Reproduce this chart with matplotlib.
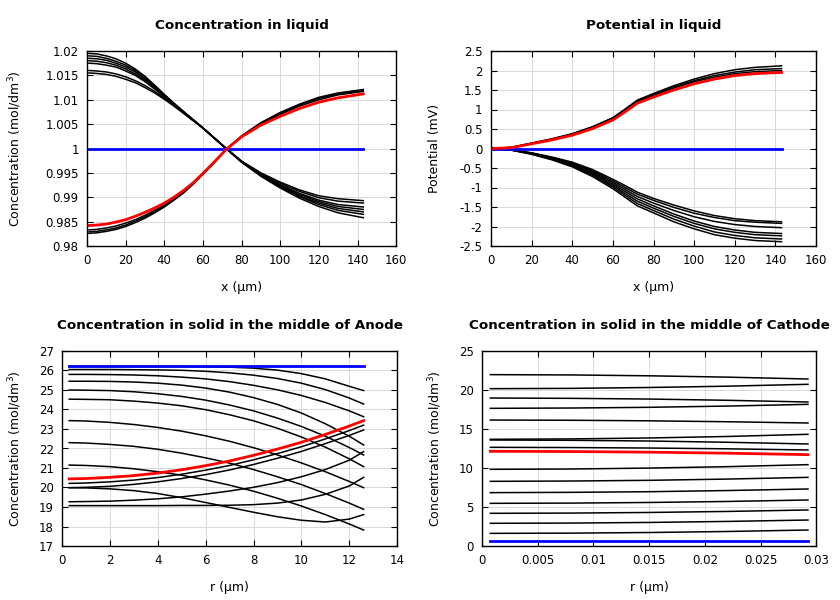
import numpy as np
import matplotlib
matplotlib.use('Agg')
import matplotlib.pyplot as plt
from matplotlib.ticker import FuncFormatter

# ---- Data ----
# x grid (um) for the liquid concentration panel
x_conc = [1, 5, 10, 15, 20, 25, 30, 35, 40, 45, 50, 55, 60, 66, 72, 80, 90, 100, 110, 120, 130, 143]

# concentration in liquid (mol/dm3)
conc_liq_falling = [
    [1.0195, 1.0194, 1.0190, 1.0184, 1.0175, 1.0163, 1.0148, 1.0130, 1.0111, 1.0093, 1.0076, 1.0059, 1.0042, 1.0021, 1.0000, 0.9972, 0.9943, 0.9919, 0.9898, 0.9881, 0.9868, 0.9858],
    [1.0190, 1.0189, 1.0185, 1.0179, 1.0171, 1.0160, 1.0146, 1.0128, 1.0110, 1.0092, 1.0075, 1.0059, 1.0042, 1.0021, 1.0000, 0.9972, 0.9944, 0.9921, 0.9901, 0.9885, 0.9873, 0.9865],
    [1.0185, 1.0184, 1.0181, 1.0175, 1.0167, 1.0157, 1.0143, 1.0126, 1.0108, 1.0091, 1.0075, 1.0058, 1.0042, 1.0021, 1.0000, 0.9973, 0.9945, 0.9922, 0.9903, 0.9888, 0.9877, 0.9870],
    [1.0180, 1.0179, 1.0176, 1.0171, 1.0163, 1.0153, 1.0140, 1.0124, 1.0107, 1.0090, 1.0074, 1.0058, 1.0042, 1.0021, 1.0000, 0.9973, 0.9946, 0.9924, 0.9906, 0.9891, 0.9881, 0.9875],
    [1.0175, 1.0174, 1.0171, 1.0167, 1.0159, 1.0150, 1.0137, 1.0122, 1.0106, 1.0090, 1.0074, 1.0058, 1.0042, 1.0021, 1.0000, 0.9973, 0.9947, 0.9926, 0.9908, 0.9894, 0.9885, 0.9880],
    [1.0160, 1.0159, 1.0157, 1.0153, 1.0147, 1.0139, 1.0129, 1.0117, 1.0103, 1.0088, 1.0073, 1.0057, 1.0042, 1.0021, 1.0000, 0.9974, 0.9949, 0.9929, 0.9912, 0.9899, 0.9892, 0.9888],
    [1.0155, 1.0154, 1.0152, 1.0148, 1.0142, 1.0135, 1.0125, 1.0114, 1.0101, 1.0087, 1.0072, 1.0057, 1.0042, 1.0021, 1.0000, 0.9974, 0.9950, 0.9931, 0.9915, 0.9903, 0.9897, 0.9893],
]
conc_liq_rising = [
    [0.9826, 0.9827, 0.9830, 0.9834, 0.9840, 0.9848, 0.9857, 0.9868, 0.9880, 0.9894, 0.9909, 0.9927, 0.9947, 0.9972, 0.9998, 1.0026, 1.0053, 1.0074, 1.0091, 1.0105, 1.0114, 1.0121],
    [0.9829, 0.9830, 0.9833, 0.9837, 0.9843, 0.9851, 0.9860, 0.9870, 0.9882, 0.9896, 0.9911, 0.9928, 0.9948, 0.9972, 0.9998, 1.0025, 1.0052, 1.0072, 1.0089, 1.0103, 1.0112, 1.0119],
    [0.9833, 0.9834, 0.9837, 0.9841, 0.9847, 0.9854, 0.9863, 0.9873, 0.9884, 0.9897, 0.9912, 0.9929, 0.9948, 0.9972, 0.9998, 1.0025, 1.0051, 1.0070, 1.0087, 1.0100, 1.0110, 1.0117],
]
conc_liq_final = [0.9842, 0.9843, 0.9845, 0.9849, 0.9854, 0.9861, 0.9869, 0.9878, 0.9888, 0.9900, 0.9914, 0.9930, 0.9949, 0.9973, 0.9998, 1.0024, 1.0048, 1.0066, 1.0082, 1.0095, 1.0104, 1.0112]
conc_liq_init = [1.0] * len(x_conc)

# x grid (um) for the liquid potential panel
x_pot = [1, 10, 20, 30, 40, 50, 60, 66, 72, 80, 90, 100, 110, 120, 130, 143]

# potential in liquid (mV)
pot_liq_others = [
    [0, 0.03, 0.14, 0.25, 0.38, 0.56, 0.79, 1.01, 1.24, 1.41, 1.61, 1.78, 1.92, 2.02, 2.08, 2.12],
    [0, 0.03, 0.13, 0.24, 0.37, 0.55, 0.78, 0.99, 1.22, 1.39, 1.58, 1.74, 1.87, 1.96, 2.02, 2.05],
    [0, 0.02, 0.13, 0.23, 0.36, 0.53, 0.76, 0.97, 1.20, 1.36, 1.55, 1.71, 1.83, 1.92, 1.97, 2.00],
    [0, -0.03, -0.11, -0.22, -0.35, -0.54, -0.79, -0.95, -1.12, -1.28, -1.45, -1.60, -1.72, -1.80, -1.85, -1.88],
    [0, -0.03, -0.12, -0.23, -0.37, -0.57, -0.83, -1.00, -1.17, -1.33, -1.51, -1.66, -1.77, -1.85, -1.89, -1.92],
    [0, -0.03, -0.12, -0.24, -0.39, -0.60, -0.87, -1.05, -1.23, -1.40, -1.59, -1.75, -1.87, -1.95, -2.00, -2.03],
    [0, -0.04, -0.13, -0.25, -0.41, -0.63, -0.91, -1.10, -1.29, -1.47, -1.68, -1.86, -2.00, -2.09, -2.15, -2.18],
    [0, -0.04, -0.13, -0.26, -0.43, -0.66, -0.95, -1.15, -1.35, -1.53, -1.74, -1.92, -2.06, -2.15, -2.21, -2.24],
    [0, -0.04, -0.14, -0.28, -0.45, -0.69, -0.99, -1.20, -1.41, -1.59, -1.81, -1.99, -2.14, -2.23, -2.29, -2.32],
    [0, -0.04, -0.15, -0.29, -0.47, -0.72, -1.03, -1.25, -1.47, -1.65, -1.88, -2.06, -2.21, -2.30, -2.36, -2.39],
]
pot_liq_final = [0, 0.02, 0.12, 0.22, 0.34, 0.51, 0.73, 0.94, 1.16, 1.32, 1.50, 1.66, 1.78, 1.87, 1.92, 1.95]
pot_liq_init = [0.0] * len(x_pot)

# anode particle, radius grid (um)
r_anode = [0.3, 1, 2, 3, 4, 5, 6, 7, 8, 9, 10, 11, 12, 12.6]
conc_anode_others = [
    [26.20, 26.20, 26.20, 26.20, 26.20, 26.20, 26.19, 26.17, 26.12, 26.02, 25.84, 25.57, 25.19, 24.97],
    [26.05, 26.05, 26.05, 26.04, 26.03, 26.01, 25.96, 25.88, 25.76, 25.59, 25.35, 25.02, 24.59, 24.28],
    [25.80, 25.80, 25.79, 25.77, 25.73, 25.66, 25.57, 25.43, 25.24, 25.01, 24.72, 24.36, 23.93, 23.63],
    [25.45, 25.45, 25.44, 25.41, 25.35, 25.25, 25.10, 24.89, 24.61, 24.26, 23.82, 23.27, 22.63, 22.18],
    [25.00, 24.99, 24.97, 24.91, 24.81, 24.67, 24.48, 24.23, 23.93, 23.56, 23.13, 22.63, 22.05, 21.67],
    [24.53, 24.52, 24.50, 24.43, 24.33, 24.19, 23.99, 23.73, 23.42, 23.04, 22.59, 22.07, 21.47, 21.07],
    [23.43, 23.41, 23.34, 23.23, 23.08, 22.89, 22.65, 22.37, 22.04, 21.67, 21.26, 20.81, 20.31, 19.99],
    [22.30, 22.28, 22.21, 22.11, 21.96, 21.76, 21.52, 21.25, 20.92, 20.55, 20.15, 19.69, 19.20, 18.88],
    [21.15, 21.13, 21.07, 20.96, 20.81, 20.63, 20.39, 20.12, 19.81, 19.45, 19.05, 18.61, 18.13, 17.82],
    [19.99, 19.98, 19.93, 19.84, 19.69, 19.48, 19.23, 18.98, 18.73, 18.50, 18.32, 18.23, 18.38, 18.61],
    [19.07, 19.07, 19.07, 19.07, 19.07, 19.08, 19.08, 19.09, 19.12, 19.20, 19.36, 19.65, 20.08, 20.52],
    [19.27, 19.28, 19.30, 19.35, 19.42, 19.52, 19.66, 19.82, 20.01, 20.25, 20.55, 20.92, 21.40, 21.84],
    [19.99, 20.01, 20.06, 20.16, 20.29, 20.46, 20.66, 20.90, 21.18, 21.50, 21.85, 22.25, 22.67, 22.95],
    [20.21, 20.23, 20.29, 20.38, 20.51, 20.68, 20.89, 21.13, 21.42, 21.74, 22.09, 22.49, 22.92, 23.20],
]
conc_anode_final = [20.44, 20.46, 20.52, 20.61, 20.74, 20.91, 21.12, 21.36, 21.65, 21.97, 22.32, 22.72, 23.15, 23.43]
conc_anode_init = [26.22] * len(r_anode)

# cathode particle, radius grid (um)
r_cathode = [0.00075, 0.008, 0.015, 0.022, 0.02925]
conc_cathode_others = [
    [21.97, 21.93, 21.82, 21.65, 21.41],
    [20.17, 20.21, 20.32, 20.49, 20.73],
    [18.97, 18.93, 18.84, 18.68, 18.46],
    [17.65, 17.69, 17.78, 17.94, 18.16],
    [16.15, 16.12, 16.05, 15.93, 15.77],
    [13.68, 13.73, 13.85, 14.04, 14.32],
    [13.59, 13.55, 13.46, 13.30, 13.08],
    [12.65, 12.62, 12.56, 12.46, 12.31],
    [9.83, 9.87, 9.99, 10.17, 10.43],
    [8.29, 8.33, 8.42, 8.58, 8.80],
    [6.84, 6.88, 6.96, 7.11, 7.31],
    [5.47, 5.50, 5.58, 5.71, 5.90],
    [4.19, 4.22, 4.30, 4.43, 4.62],
    [2.91, 2.94, 3.02, 3.15, 3.33],
    [1.62, 1.65, 1.73, 1.86, 2.05],
]
conc_cathode_final = [12.14, 12.11, 12.03, 11.90, 11.71]
conc_cathode_init = [0.64] * len(r_cathode)


def setupAxes(ax, title, xlabel, ylabel, ylabel_x, xlim, xstep, ylim, ystep):
    ax.set_title(title, fontsize=9.7, fontweight='bold', pad=16)
    ax.set_xlabel(xlabel, fontsize=9, labelpad=10)
    ax.set_ylabel(ylabel, fontsize=9)
    ax.yaxis.set_label_coords(ylabel_x, 0.5)
    ax.set_xlim(*xlim)
    ax.set_ylim(*ylim)
    ax.set_xticks(np.arange(xlim[0], xlim[1] + xstep / 2, xstep))
    ax.set_yticks(np.arange(ylim[0], ylim[1] + ystep / 2, ystep))
    # gnuplot-like labels: 1.015, 1, 0.995 ...
    fmt = FuncFormatter(lambda v, pos: '%g' % round(v, 6))
    ax.xaxis.set_major_formatter(fmt)
    ax.yaxis.set_major_formatter(fmt)
    ax.tick_params(direction='in', top=True, right=True, length=4, width=0.8,
                   labelsize=8.5, pad=6)
    ax.grid(True, color='#d3d3d3', linewidth=0.6)
    ax.set_axisbelow(True)
    for s in ax.spines.values():
        s.set_linewidth(1.0)


def plotFamily(ax, x, others, init, final):
    for y in others:
        ax.plot(x, y, color='black', linewidth=1.1)
    ax.plot(x, init, color='blue', linewidth=2.0)
    ax.plot(x, final, color='red', linewidth=2.0)


fig = plt.figure(figsize=(8.4, 6.0), dpi=100)
ax1 = fig.add_axes([0.1036, 0.590, 0.368, 0.325])
ax2 = fig.add_axes([0.5845, 0.590, 0.387, 0.325])
ax3 = fig.add_axes([0.0738, 0.090, 0.399, 0.325])
ax4 = fig.add_axes([0.5738, 0.090, 0.398, 0.325])

conc_label = r'Concentration (mol/dm$^3$)'

plotFamily(ax1, x_conc, conc_liq_falling + conc_liq_rising, conc_liq_init, conc_liq_final)
setupAxes(ax1, 'Concentration in liquid', 'x (µm)', conc_label, -0.205,
          (0, 160), 20, (0.98, 1.02), 0.005)

plotFamily(ax2, x_pot, pot_liq_others, pot_liq_init, pot_liq_final)
setupAxes(ax2, 'Potential in liquid', 'x (µm)', 'Potential (mV)', -0.154,
          (0, 160), 20, (-2.5, 2.5), 0.5)

plotFamily(ax3, r_anode, conc_anode_others, conc_anode_init, conc_anode_final)
setupAxes(ax3, 'Concentration in solid in the middle of Anode', 'r (µm)', conc_label, -0.113,
          (0, 14), 2, (17, 27), 1)

plotFamily(ax4, r_cathode, conc_cathode_others, conc_cathode_init, conc_cathode_final)
setupAxes(ax4, 'Concentration in solid in the middle of Cathode', 'r (µm)', conc_label, -0.114,
          (0, 0.03), 0.005, (0, 25), 5)

fig.savefig('out.png', dpi=100)
